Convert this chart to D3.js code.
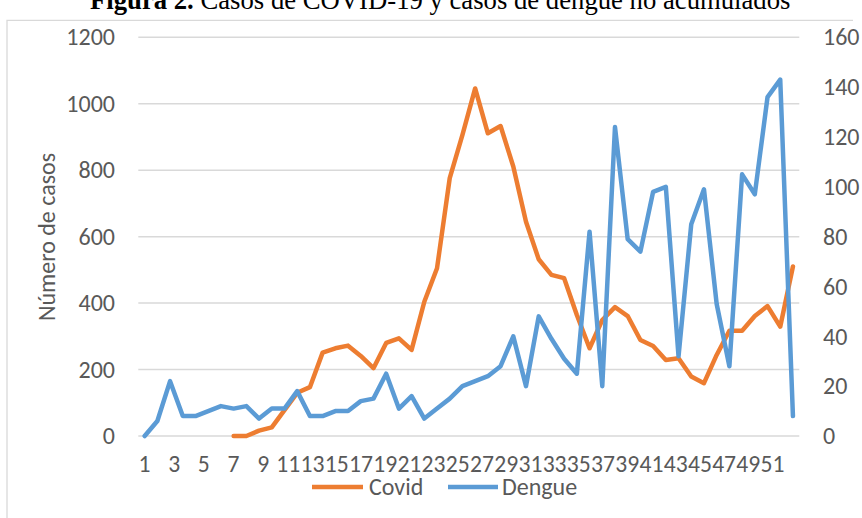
<!DOCTYPE html>
<html><head><meta charset="utf-8">
<script src="https://cdn.jsdelivr.net/npm/d3@7"></script>
<style>
body{margin:0;background:#fff}
text{font-family:Carlito,Calibri,Lato,"Open Sans",sans-serif;fill:#595959}
</style></head>
<body><svg id="c" width="862" height="518"></svg>
<script>
// ---- data ----
const weeks = [1,2,3,4,5,6,7,8,9,10,11,12,13,14,15,16,17,18,19,20,21,22,23,24,25,26,
  27,28,29,30,31,32,33,34,35,36,37,38,39,40,41,42,43,44,45,46,47,48,49,50,51,52];
const covid = [null,null,null,null,null,null,null,0,0,16,26,78,130,147,251,264,272,241,204,280,
  294,259,404,505,776,906,1046,911,933,811,645,532,485,475,364,264,349,388,361,289,
  271,229,234,179,159,244,317,317,361,391,329,510];
const dengue = [0,6,22,8,8,10,12,11,12,7,11,11,18,8,8,10,10,14,15,25,
  11,16,7,11,15,20,22,24,28,40,20,48,39,31,25,82,20,124,79,74,
  98,100,32,85,99,53,28,105,97,136,143,8];
const xTickLabels = [1,3,5,7,9,11,13,15,17,19,21,23,25,27,29,31,33,35,37,39,41,43,45,47,49,51];
const leftTicks = [0,200,400,600,800,1000,1200];
const rightTicks = [0,20,40,60,80,100,120,140,160];
const seriesNames = ["Covid","Dengue"];
const title = ["Figura 2.", " Casos de COVID-19 y casos de dengue no acumulados"];
const yTitle = "Número de casos";

// ---- layout ----
const svg = d3.select("#c");
const L = 138.3, R = 799.3, T = 37.3, B = 436;
const colors = {Covid:"#ED7D31", Dengue:"#5B9BD5"};

const x = d3.scaleBand().domain(weeks).range([L, R]);
const cx = w => x(w) + x.bandwidth()/2;
const yL = d3.scaleLinear().domain([0,1200]).range([B, T]);
const yR = d3.scaleLinear().domain([0,160]).range([B, T]);
// label positions as rendered in the original (labels squeezed)
const xl = d3.scaleLinear().domain([1,9,11,51]).range([144,262.7,287.8,772]);

// border
svg.append("path").attr("d","M7,540 V20.4 H853").attr("fill","none")
  .attr("stroke","#D9D9D9").attr("stroke-width",1.3);

// title
const tt = svg.append("text").attr("x",90).attr("y",9)
  .style("font-family","'Liberation Serif','Times New Roman',serif")
  .style("font-size","26.7px").style("fill","#000");
tt.append("tspan").style("font-weight","bold").text(title[0]);
tt.append("tspan").text(title[1]);

// gridlines
svg.append("g").selectAll("line").data(leftTicks).join("line")
  .attr("x1",L).attr("x2",R).attr("y1",d=>yL(d)).attr("y2",d=>yL(d))
  .attr("stroke","#D9D9D9").attr("stroke-width",1.5);

// axes
const fs = "24px";
const fmt = d3.format("d");
const gl = svg.append("g").attr("transform","translate(115,0)")
  .call(d3.axisLeft(yL).tickValues(leftTicks).tickFormat(fmt).tickSize(0).tickPadding(0));
const gr = svg.append("g").attr("transform","translate(823,0)")
  .call(d3.axisRight(yR).tickValues(rightTicks).tickFormat(fmt).tickSize(0).tickPadding(0));
const gb = svg.append("g").attr("transform","translate(0,455)")
  .call(d3.axisBottom(xl).tickValues(xTickLabels).tickFormat(fmt).tickSize(0).tickPadding(0));
[gl,gr,gb].forEach(g=>{
  g.select(".domain").remove();
  g.selectAll("text").style("font-size",fs).style("fill","#595959")
   .style("font-family","Carlito,Calibri,Lato,'Open Sans',sans-serif");
});
gb.selectAll("text").style("font-size","23.6px");

// y axis title
svg.append("text").attr("transform","translate(55,237) rotate(-90)")
  .attr("text-anchor","middle").style("font-size",fs).text(yTitle);

// lines
const lineL = d3.line().defined(d=>d.v!==null).x(d=>cx(d.w)).y(d=>yL(d.v));
const lineR = d3.line().defined(d=>d.v!==null).x(d=>cx(d.w)).y(d=>yR(d.v));
svg.append("path").datum(weeks.map((w,i)=>({w,v:covid[i]})))
  .attr("d",lineL).attr("fill","none").attr("stroke",colors.Covid)
  .attr("stroke-width",4.5).attr("stroke-linejoin","round").attr("stroke-linecap","round");
svg.append("path").datum(weeks.map((w,i)=>({w,v:dengue[i]})))
  .attr("d",lineR).attr("fill","none").attr("stroke",colors.Dengue)
  .attr("stroke-width",4.5).attr("stroke-linejoin","round").attr("stroke-linecap","round");

// legend
const leg = [{n:seriesNames[0],x1:312,x2:363,tx:369},{n:seriesNames[1],x1:448,x2:498,tx:502}];
const lg = svg.append("g");
lg.selectAll("line").data(leg).join("line")
  .attr("x1",d=>d.x1).attr("x2",d=>d.x2).attr("y1",487).attr("y2",487)
  .attr("stroke",d=>colors[d.n]).attr("stroke-width",4.5);
lg.selectAll("text").data(leg).join("text")
  .attr("x",d=>d.tx).attr("y",495).style("font-size",fs).text(d=>d.n);
</script>
</body></html>
